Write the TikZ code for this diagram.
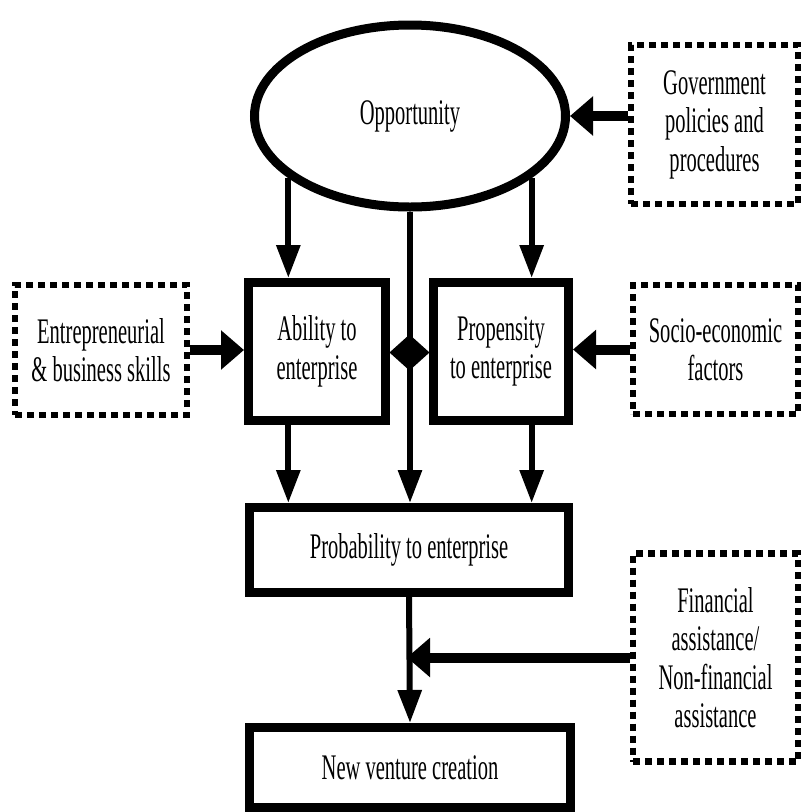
\documentclass[tikz,border=0pt]{standalone}
\usepackage{fontspec}
\setmainfont{Liberation Serif}[FakeStretch=0.57]
\usetikzlibrary{shapes.geometric,arrows.meta}
\begin{document}
\begin{tikzpicture}[x=1pt,y=-1pt,
  every node/.style={font=\fontsize{36}{38.5}\selectfont, align=center, inner sep=0pt},
  solidbox/.style={draw, line width=9pt, rectangle},
  dotbox/.style={draw, line width=6.5pt, dash pattern=on 7pt off 5pt, rectangle},
  thinarrow/.style={line width=6pt, -{Triangle[length=33pt,width=23pt]}},
  thickarrow/.style={line width=10pt, -{Triangle[length=23pt,width=38pt]}}]
\useasboundingbox (0,0) rectangle (801,812);

% nodes
\node[draw, ellipse, line width=9pt, minimum width=311pt, minimum height=182pt] (opp) at (410,116) {\raisebox{7pt}{Opportunity}};
\node[dotbox, minimum width=167pt, minimum height=159pt] (gov) at (714.5,124.5) {Government\\policies and\\procedures};
\node[solidbox, minimum width=137pt, minimum height=138pt] (abil) at (317,351.5) {Ability to\\enterprise};
\node[solidbox, minimum width=135pt, minimum height=138pt] (prop) at (501,351.5) {Propensity\\to enterprise};
\node[dotbox, minimum width=172pt, minimum height=130pt] (entre) at (101,350) {Entrepreneurial\\\& business skills};
\node[dotbox, minimum width=165pt, minimum height=129pt] (socio) at (715.5,349.5) {Socio-economic\\factors};
\node[solidbox, minimum width=319pt, minimum height=85pt] (prob) at (409,550) {Probability to enterprise};
\node[solidbox, minimum width=321pt, minimum height=80pt] (nv) at (410,767.5) {New venture creation};
\node[dotbox, minimum width=165pt, minimum height=208pt] (fin) at (715.5,657.5) {Financial\\assistance/\\Non-financial\\assistance};

\coordinate (la) at (opp.-153);
\coordinate (ra) at (opp.-27);

% connectors
\draw[thinarrow] (la) -- (la |- abil.north);
\draw[thinarrow] (ra) -- (ra |- prop.north);
\draw[thinarrow] (opp.south) -- (opp.south |- prob.north);
\draw[thinarrow] (la |- abil.south) -- (la |- prob.north);
\draw[thinarrow] (ra |- prop.south) -- (ra |- prob.north);
\draw[thinarrow] (prob.south) -- (nv.north);

% diamond junction
\coordinate (dia) at (409.5,352.5);
\fill ([xshift=-20pt]dia) -- ([yshift=18pt]dia) -- ([xshift=20pt]dia) -- ([yshift=-18pt]dia) -- cycle;

\draw[thickarrow] (opp.east -| gov.west) -- (opp.east);
\draw[thickarrow] (entre.east) -- (entre.east -| abil.west);
\draw[thickarrow] (socio.west) -- (socio.west -| prop.east);
\draw[thickarrow, shorten >=-2pt] (fin.west) -- (prob.south |- fin.west);
\end{tikzpicture}
\end{document}
